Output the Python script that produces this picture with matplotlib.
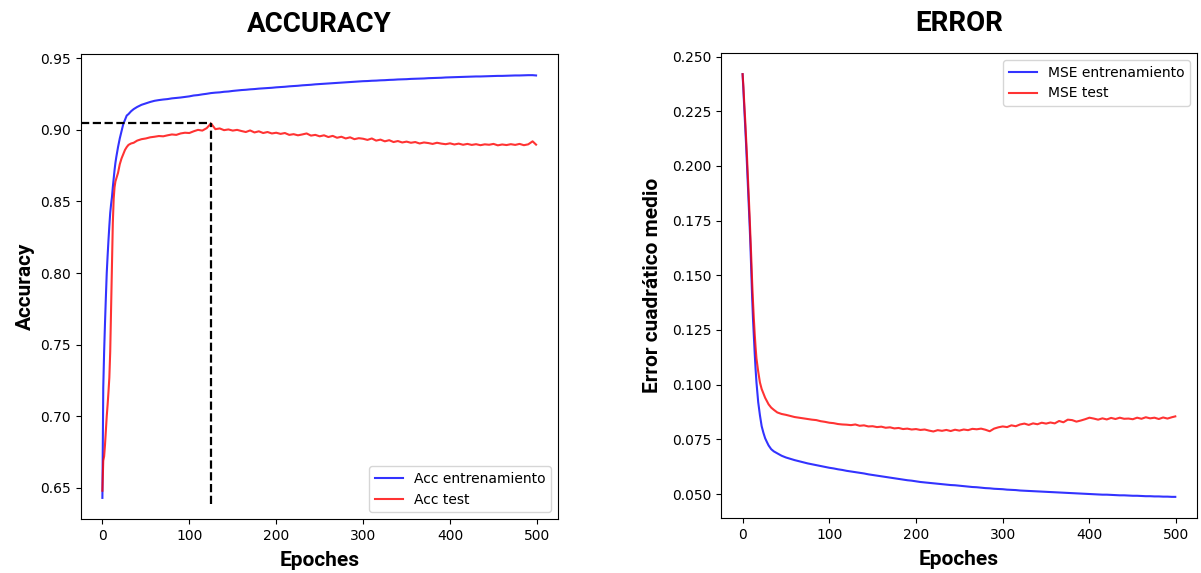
import numpy as np
import matplotlib
matplotlib.use("Agg")
import matplotlib.pyplot as plt

epochs = [0, 1, 2, 3, 4, 5, 6, 7, 8, 9, 10, 11, 12, 13, 14, 15, 16, 18, 20, 22,
          24, 26, 28, 30, 33, 36, 40, 45] + list(range(50, 500, 5)) + [499]

acc_train = [0.643, 0.720, 0.745, 0.765, 0.783, 0.800, 0.812, 0.823, 0.833, 0.842,
             0.848, 0.853, 0.860, 0.866, 0.872, 0.877, 0.881, 0.888, 0.894, 0.899,
             0.904, 0.907, 0.910, 0.911, 0.913, 0.9145, 0.916, 0.9175,
             0.9185, 0.9195, 0.9203, 0.9208, 0.9212, 0.9215, 0.9220, 0.9223, 0.9226, 0.9230,
             0.9234, 0.9240, 0.9243, 0.9248, 0.9252, 0.9257, 0.9260, 0.9262, 0.9266, 0.9268,
             0.9272, 0.9275, 0.9278, 0.9280, 0.9283, 0.9285, 0.9288, 0.9290, 0.9292, 0.9294,
             0.9297, 0.9299, 0.9301, 0.9304, 0.9306, 0.9308, 0.9311, 0.9313, 0.9315, 0.9318,
             0.9320, 0.9322, 0.9324, 0.9326, 0.9328, 0.9330, 0.9332, 0.9334, 0.9336, 0.9338,
             0.9340, 0.9341, 0.9343, 0.9344, 0.9346, 0.9347, 0.9349, 0.9350, 0.9352, 0.9353,
             0.9354, 0.9356, 0.9357, 0.9358, 0.9359, 0.9361, 0.9362, 0.9363, 0.9364, 0.9366,
             0.9367, 0.9368, 0.9369, 0.9370, 0.9371, 0.9372, 0.9373, 0.9373, 0.9374, 0.9375,
             0.9376, 0.9377, 0.9377, 0.9378, 0.9379, 0.9380, 0.9380, 0.9381, 0.9382, 0.9382,
             0.9380]

acc_test = [0.648, 0.669, 0.672, 0.680, 0.690, 0.700, 0.708, 0.717, 0.727, 0.745,
            0.775, 0.805, 0.835, 0.852, 0.860, 0.864, 0.866, 0.870, 0.876, 0.880,
            0.883, 0.886, 0.888, 0.8895, 0.8905, 0.891, 0.8925, 0.8935,
            0.8940, 0.8948, 0.8952, 0.8957, 0.8955, 0.8962, 0.8968, 0.8965, 0.8975, 0.8980,
            0.8978, 0.8990, 0.9000, 0.8995, 0.9012, 0.9045, 0.9005, 0.9010, 0.8998, 0.9003,
            0.8995, 0.9000, 0.8992, 0.8985, 0.8996, 0.8982, 0.8990, 0.8978, 0.8985, 0.8975,
            0.8980, 0.8972, 0.8978, 0.8965, 0.8970, 0.8962, 0.8968, 0.8975, 0.8960, 0.8965,
            0.8955, 0.8962, 0.8950, 0.8958, 0.8945, 0.8952, 0.8940, 0.8948, 0.8935, 0.8942,
            0.8938, 0.8930, 0.8940, 0.8925, 0.8932, 0.8920, 0.8928, 0.8915, 0.8922, 0.8912,
            0.8918, 0.8910, 0.8915, 0.8905, 0.8912, 0.8908, 0.8902, 0.8910, 0.8904, 0.8900,
            0.8906, 0.8898, 0.8904, 0.8896, 0.8902, 0.8895, 0.8900, 0.8893, 0.8899, 0.8896,
            0.8902, 0.8892, 0.8898, 0.8894, 0.8900, 0.8895, 0.8902, 0.8893, 0.8899, 0.8920,
            0.8897]

mse_train = [0.242, 0.234, 0.226, 0.218, 0.210, 0.201, 0.192, 0.183, 0.174, 0.164,
             0.152, 0.140, 0.130, 0.122, 0.114, 0.107, 0.101, 0.092, 0.086, 0.081,
             0.078, 0.0755, 0.0738, 0.0722, 0.0705, 0.0695, 0.0686, 0.0675,
             0.0667, 0.0661, 0.0655, 0.0650, 0.0645, 0.0640, 0.0636, 0.0632, 0.0628, 0.0624,
             0.0620, 0.0617, 0.0613, 0.0610, 0.0606, 0.0603, 0.0600, 0.0597, 0.0594, 0.0590,
             0.0587, 0.0584, 0.0581, 0.0578, 0.0575, 0.0572, 0.0569, 0.0566, 0.0563, 0.0561,
             0.0558, 0.0555, 0.0553, 0.0551, 0.0549, 0.0547, 0.0545, 0.0543, 0.0541, 0.0540,
             0.0538, 0.0536, 0.0534, 0.0532, 0.0531, 0.0529, 0.0527, 0.0526, 0.0524, 0.0523,
             0.0522, 0.0520, 0.0519, 0.0518, 0.0516, 0.0515, 0.0514, 0.0513, 0.0512, 0.0511,
             0.0510, 0.0509, 0.0508, 0.0507, 0.0506, 0.0505, 0.0504, 0.0503, 0.0502, 0.0501,
             0.0500, 0.0499, 0.0498, 0.0497, 0.0497, 0.0496, 0.0495, 0.0494, 0.0494, 0.0493,
             0.0492, 0.0492, 0.0491, 0.0490, 0.0490, 0.0489, 0.0489, 0.0488, 0.0488, 0.0487,
             0.0487]

mse_test = [0.242, 0.236, 0.228, 0.221, 0.213, 0.205, 0.196, 0.187, 0.178, 0.168,
            0.158, 0.147, 0.138, 0.130, 0.123, 0.117, 0.112, 0.106, 0.101, 0.098,
            0.096, 0.094, 0.0925, 0.0910, 0.0895, 0.0885, 0.0873, 0.0866,
            0.0862, 0.0857, 0.0852, 0.0849, 0.0846, 0.0843, 0.0840, 0.0838, 0.0833, 0.0830,
            0.0826, 0.0824, 0.0820, 0.0818, 0.0817, 0.0815, 0.0818, 0.0812, 0.0814, 0.0809,
            0.0810, 0.0806, 0.0808, 0.0803, 0.0805, 0.0800, 0.0802, 0.0797, 0.0799, 0.0795,
            0.0797, 0.0793, 0.0795, 0.0790, 0.0786, 0.0792, 0.0789, 0.0793, 0.0788, 0.0794,
            0.0790, 0.0795, 0.0792, 0.0798, 0.0796, 0.0799, 0.0794, 0.0787, 0.0799, 0.0805,
            0.0809, 0.0806, 0.0814, 0.0810, 0.0818, 0.0822, 0.0816, 0.0823, 0.0819, 0.0826,
            0.0822, 0.0827, 0.0823, 0.0834, 0.0828, 0.0840, 0.0838, 0.0831, 0.0836, 0.0842,
            0.0849, 0.0845, 0.0840, 0.0846, 0.0841, 0.0848, 0.0843, 0.0849, 0.0844, 0.0845,
            0.0842, 0.0849, 0.0844, 0.0851, 0.0846, 0.0849, 0.0843, 0.0850, 0.0845, 0.0851,
            0.0855]

dash_bottom = 0.639  # lower end of the vertical marker line

title_font = dict(family="Roboto", weight="bold", fontsize=20)
label_font = dict(family="Roboto", weight="bold", fontsize=15)

fig = plt.figure(figsize=(12.01, 5.73), dpi=100)
ax1 = fig.add_axes([0.0672, 0.0942, 0.3972, 0.8115])
ax2 = fig.add_axes([0.6003, 0.0960, 0.3963, 0.8115])

# ---- accuracy
ax1.plot(epochs, acc_train, color="b", alpha=0.8, lw=1.5, label="Acc entrenamiento")
ax1.plot(epochs, acc_test, color="r", alpha=0.8, lw=1.5, label="Acc test")
xlim = ax1.get_xlim()
ylim = ax1.get_ylim()
best = int(np.argmax(acc_test))
best_ep, best_acc = epochs[best], acc_test[best]
ax1.hlines(best_acc, xlim[0], best_ep, colors="k", linestyles="--", lw=1.6)
ax1.vlines(best_ep, dash_bottom, best_acc, colors="k", linestyles="--", lw=1.6)
ax1.set_xlim(xlim)
ax1.set_ylim(ylim)
ax1.set_title("ACCURACY", pad=16, **title_font)
ax1.set_ylabel("Accuracy", labelpad=4, **label_font)
ax1.set_xlabel("Epoches", labelpad=6, **label_font)
ax1.legend(loc="lower right")

# ---- error
ax2.plot(epochs, mse_train, color="b", alpha=0.8, lw=1.5, label="MSE entrenamiento")
ax2.plot(epochs, mse_test, color="r", alpha=0.8, lw=1.5, label="MSE test")
ax2.set_title("ERROR", pad=16, **title_font)
ax2.set_ylabel("Error cuadrático medio", labelpad=7, **label_font)
ax2.set_xlabel("Epoches", labelpad=6, **label_font)
ax2.legend(loc="upper right")

fig.savefig("out.png", dpi=100)
